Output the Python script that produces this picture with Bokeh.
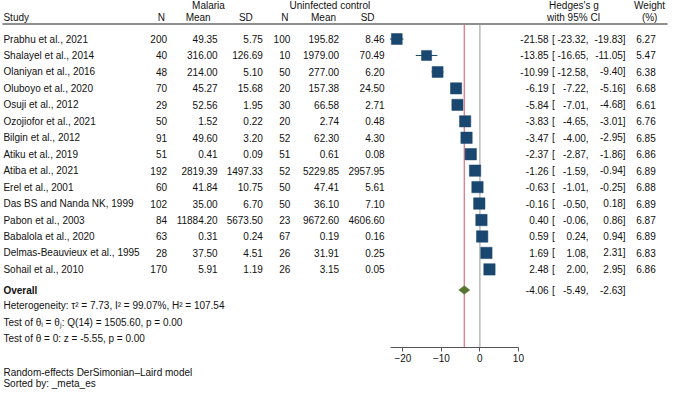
from math import sqrt
from bokeh.plotting import figure
from bokeh.models import ColumnDataSource, Range1d, LinearAxis, FixedTicker
from bokeh.core.properties import value
from bokeh.embed import file_html
from bokeh.resources import INLINE

# ---------------- data ----------------
studies = ["Prabhu et al., 2021", "Shalayel et al., 2014", "Olaniyan et al., 2016",
           "Oluboyo et al., 2020", "Osuji et al., 2012", "Ozojiofor et al., 2021",
           "Bilgin et al., 2012", "Atiku et al., 2019", "Atiba et al., 2021",
           "Erel et al., 2001", "Das BS and Nanda NK, 1999", "Pabon et al., 2003",
           "Babalola et al., 2020", "Delmas-Beauvieux et al., 1995", "Sohail et al., 2010"]
mal_n = [200, 40, 48, 70, 29, 50, 91, 51, 192, 60, 102, 84, 63, 28, 170]
mal_mean = [49.35, 316.00, 214.00, 45.27, 52.56, 1.52, 49.60, 0.41, 2819.39, 41.84,
            35.00, 11884.20, 0.31, 37.50, 5.91]
mal_sd = [5.75, 126.69, 5.10, 15.68, 1.95, 0.22, 3.20, 0.09, 1497.33, 10.75,
          6.70, 5673.50, 0.24, 4.51, 1.19]
ctl_n = [100, 10, 50, 20, 30, 20, 52, 51, 52, 50, 50, 23, 67, 26, 26]
ctl_mean = [195.82, 1979.00, 277.00, 157.38, 66.58, 2.74, 62.30, 0.61, 5229.85, 47.41,
            36.10, 9672.60, 0.19, 31.91, 3.15]
ctl_sd = [8.46, 70.49, 6.20, 24.50, 2.71, 0.48, 4.30, 0.08, 2957.95, 5.61,
          7.10, 4606.60, 0.16, 0.25, 0.05]
es = [-21.58, -13.85, -10.99, -6.19, -5.84, -3.83, -3.47, -2.37, -1.26, -0.63,
      -0.16, 0.40, 0.59, 1.69, 2.48]
ci_lo = [-23.32, -16.65, -12.58, -7.22, -7.01, -4.65, -4.00, -2.87, -1.59, -1.01,
         -0.50, -0.06, 0.24, 1.08, 2.00]
ci_hi = [-19.83, -11.05, -9.40, -5.16, -4.68, -3.01, -2.95, -1.86, -0.94, -0.25,
         0.18, 0.86, 0.94, 2.31, 2.95]
weight = [6.27, 5.47, 6.38, 6.68, 6.61, 6.76, 6.85, 6.86, 6.89, 6.88, 6.89, 6.87,
          6.89, 6.83, 6.86]
overall_es, overall_lo, overall_hi = -4.06, -5.49, -2.63
x_ticks = [-20, -10, 0, 10]
notes = ["Heterogeneity: \u03c4\u00b2 = 7.73, I\u00b2 = 99.07%, H\u00b2 = 107.54",
         "Test of \u03b8\u1d62 = \u03b8\u2c7c: Q(14) = 1505.60, p = 0.00",
         "Test of \u03b8 = 0: z = -5.55, p = 0.00"]
footnotes = ["Random-effects DerSimonian\u2013Laird model", "Sorted by: _meta_es"]

# ---------------- layout constants ----------------
W, H = 669, 389
REF_L, REF_R = 3.0, 684.0      # reference-pixel span across canvas
REF_T, REF_B = 0.0, 404.0
ROW0, PITCH = 40.0, 17.09
ZERO_X, PX_PER_G = 491.0, 3.92
FONT = "Liberation Sans"
NAVY = "#1a476f"
GREEN = "#55752f"
RED = "#e06b7c"
FS = "10px"


def row_of(ref_y):
    return (ref_y - ROW0) / PITCH


p = figure(width=W, height=H, output_backend="svg", toolbar_location=None,
           x_range=Range1d((REF_L - ZERO_X) / PX_PER_G, (REF_R - ZERO_X) / PX_PER_G),
           y_range=Range1d(row_of(REF_B), row_of(REF_T)),
           x_axis_location=None, y_axis_location=None, min_border=0,
           outline_line_color=None, background_fill_color="white")
p.extra_x_ranges = {"ref": Range1d(REF_L, REF_R)}
p.grid.visible = False

n = len(studies)
rows = list(range(n))


def txt(x, ys, texts, align="left", bold=False):
    src = ColumnDataSource(dict(x=[x] * len(ys), y=ys, t=texts))
    p.text(x="x", y="y", text="t", source=src, x_range_name="ref",
           text_align=align, text_baseline="middle", text_font=value(FONT),
           text_font_size=FS, text_color="#111111",
           text_font_style="bold" if bold else "normal")


# header
h1, h2 = row_of(5.0), row_of(17.3)
txt(214.7, [h1], ["Malaria"], "center")
txt(338.3, [h1], ["Uninfected control"], "center")
txt(586.7, [h1], ["Hedges's g"], "center")
txt(663.7, [h1], ["Weight"], "center")
txt(6, [h2], ["Study"])
for cx, lab in [(166.7, "N"), (204.2, "Mean"), (252.8, "SD"), (292.4, "N"),
                (331.8, "Mean"), (376.7, "SD"), (586.5, "with 95% CI"), (663.8, "(%)")]:
    txt(cx, [h2], [lab], "center")

hl = row_of(24.5)
p.segment(x0=[5], x1=[682], y0=[hl], y1=[hl], x_range_name="ref",
          line_color="#6a6a6a", line_width=1.5)

# table columns
txt(6, rows, studies)
txt(172.5, rows, [str(v) for v in mal_n], "right")
txt(224.0, rows, [f"{v:.2f}" for v in mal_mean], "right")
txt(270.0, rows, [f"{v:.2f}" for v in mal_sd], "right")
txt(298.0, rows, [str(v) for v in ctl_n], "right")
txt(347.7, rows, [f"{v:.2f}" for v in ctl_mean], "right")
txt(394.0, rows, [f"{v:.2f}" for v in ctl_sd], "right")

ov_row = row_of(300.7)
all_rows = rows + [ov_row]
all_es = es + [overall_es]
all_lo = ci_lo + [overall_lo]
all_hi = ci_hi + [overall_hi]
txt(561.0, all_rows, [f"{v:.2f}" for v in all_es], "right")
txt(564.5, all_rows, ["["] * len(all_rows))
txt(601.7, all_rows, [f"{v:.2f}," for v in all_lo], "right")
txt(639.3, all_rows, [f"{v:.2f}]" for v in all_hi], "right")
txt(670.0, rows, [f"{v:.2f}" for v in weight], "right")

# bottom notes
txt(6, [ov_row], ["Overall"], bold=True)
txt(6, [row_of(317.0), row_of(334.5), row_of(351.0)], notes)
txt(6, [row_of(386.5), row_of(397.5)], footnotes)

# reference lines
ax_row = row_of(360.0)
p.segment(x0=[0], x1=[0], y0=[hl + 0.05], y1=[ax_row], line_color="#a8a8a8", line_width=1.2)
p.segment(x0=[overall_es], x1=[overall_es], y0=[hl + 0.05], y1=[ax_row],
          line_color=RED, line_width=1.2)

# CIs and boxes
p.segment(x0=ci_lo, x1=ci_hi, y0=rows, y1=rows, line_color=NAVY, line_width=1)
wmax = max(weight)
p.scatter(x=es, y=rows, marker="square", size=[11.4 * sqrt(w / wmax) for w in weight],
          fill_color=NAVY, line_color=NAVY, line_width=0.5)

# overall diamond
dh = 4.5 / PITCH
p.patch(x=[overall_lo, overall_es, overall_hi, overall_es],
        y=[ov_row, ov_row - dh, ov_row, ov_row + dh],
        fill_color=GREEN, line_color=GREEN, line_width=0.5)

# x axis
ax = LinearAxis(fixed_location=ax_row, ticker=FixedTicker(ticks=x_ticks),
                bounds=(min(ci_lo), max(x_ticks)))
ax.axis_line_color = "#555555"
ax.major_tick_line_color = "#555555"
ax.major_tick_in = 0
ax.major_tick_out = 4
ax.minor_tick_line_color = None
ax.major_label_standoff = 3
ax.major_label_text_font = FONT
ax.major_label_text_font_size = FS
ax.major_label_text_color = "#111111"
p.add_layout(ax, "below")

open("out.html", "w").write(file_html(p, INLINE))
